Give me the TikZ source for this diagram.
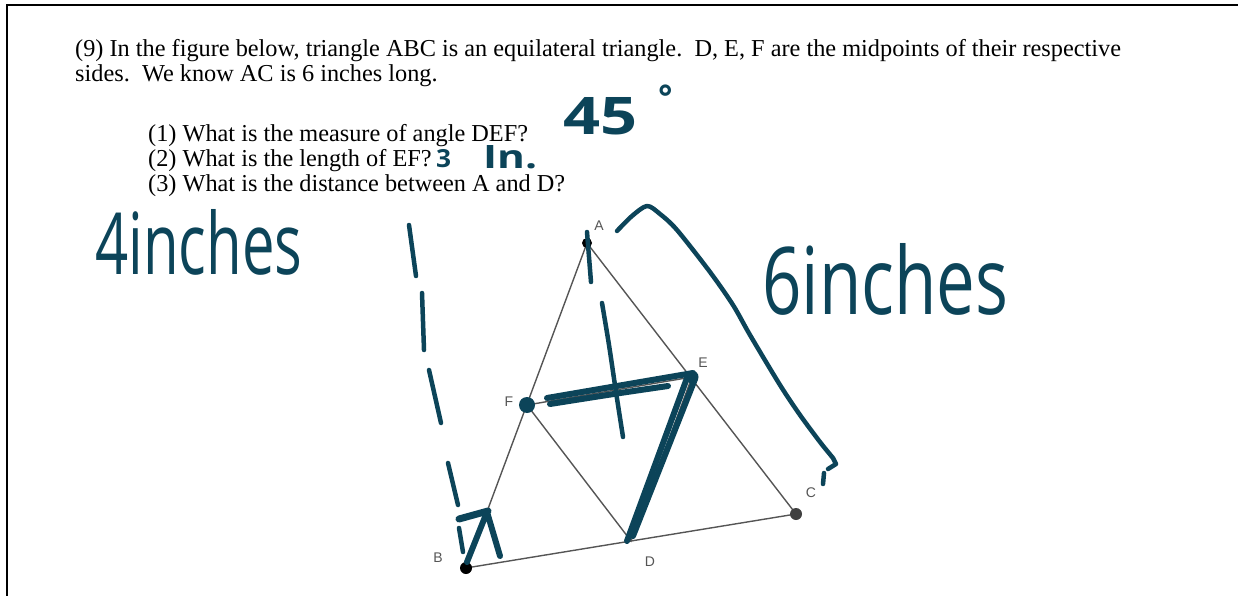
\documentclass[tikz,border=0pt]{standalone}
\usepackage{graphicx}
\usepackage{fontspec}
\setmainfont{Liberation Serif}
\newfontfamily\handfont{Open Sans}
\newfontfamily\labfont{Liberation Sans}
\definecolor{ink}{RGB}{12,68,89}
\definecolor{geo}{RGB}{85,85,85}
\begin{document}
\begin{tikzpicture}[x=1pt,y=-1pt,
  hand/.style={draw=ink, line width=4.5pt, line cap=round, line join=round},
  geoline/.style={draw=geo, line width=1.4pt},
  lab/.style={font=\labfont\fontsize{14}{14}\selectfont, text=geo, inner sep=0pt},
  qtext/.style={font=\fontsize{24.3}{26}\selectfont, inner sep=0pt, anchor=base west},
  htext/.style={text=ink, inner sep=0pt, anchor=south west, font=\handfont},
  dotnode/.style={circle, inner sep=0pt, draw=none}]
\useasboundingbox (0,0) rectangle (1238,596);
% frame
\draw[black, line width=2pt] (1238,5) -- (7,5) -- (7,596);
% text
\node[qtext] (t1) at (75,57) {(9) In the figure below, triangle ABC is an equilateral triangle.\ \ D, E, F are the midpoints of their respective};
\node[qtext] (t2) at (75,82) {sides.\ \ We know AC is 6 inches long.};
\node[qtext] (q1) at (148,142) {(1) What is the measure of angle DEF?};
\node[qtext] (q2) at (148,167) {(2) What is the length of EF?};
\node[qtext] (q3) at (148,191) {(3) What is the distance between A and D?};
% geometry
\coordinate (A) at (587,243);
\coordinate (B) at (466,568);
\coordinate (C) at (796,514);
\coordinate (D) at (631,541);
\coordinate (E) at (692,377);
\coordinate (F) at (527,405);
\draw[geoline] (A) -- (B) -- (C) -- cycle;
\draw[geoline] (D) -- (E) -- (F) -- cycle;
\node[dotnode, fill=black, minimum size=10pt] (Adot) at (A) {};
\node[dotnode, fill=black, minimum size=12pt] (Bdot) at (B) {};
\node[dotnode, fill=black!75, minimum size=12pt] (Cdot) at (C) {};
% labels
\node[lab] (lA) at (599,226) {A};
\node[lab] (lB) at (438,558) {B};
\node[lab] (lC) at (811,493) {C};
\node[lab] (lD) at (650,562) {D};
\node[lab] (lE) at (703,363) {E};
\node[lab] (lF) at (509,402) {F};
% hand strokes: dashed line on the left
\draw[hand] (409,225) -- (416,276);
\draw[hand] (422,293) -- (424,350);
\draw[hand] (429,370) -- (441,423);
\draw[hand] (448,463) -- (458,505);
\draw[hand] (459,528) -- (463,552);
% vertical through A
\draw[hand] (587,232) -- (591,282);
\draw[hand] plot[smooth] coordinates {(602,303) (609,345) (616,392) (623,437)};
% bracket on the right
\draw[hand] plot[smooth, tension=0.5] coordinates {(617,231) (632,216) (647,206) (660,214) (677,230) (710,272) (733,305) (750,335) (780,385) (800,415) (820,442) (833,458)} -- (836,464) -- (828,469);
\draw[hand] (824,473) -- (823,484);
% thick FE
\draw[hand, line width=6pt] plot[smooth] coordinates {(547,398) (617,386) (693,373)};
\draw[hand, line width=6pt] plot[smooth] coordinates {(550,404) (617,393.5) (668,386)};
% thick ED
\draw[hand, line width=6pt] (687,378) -- (627,541);
\draw[hand, line width=6pt] (695,379) -- (633,536);
% mark at B
\draw[hand, line width=7pt] (459,519) -- (488,511);
\draw[hand, line width=6pt] (467,562) -- (487,512) -- (500,556);
% teal dots
\node[dotnode, fill=ink, minimum size=16pt] (Fdot) at (F) {};
\node[dotnode, fill=ink, minimum size=13pt] (Edot) at (E) {};
% handwritten text
\node[htext] (h4) at (95,276) {\resizebox{207pt}{65pt}{4inches}};
\node[htext] (h6) at (762,316) {\resizebox{246pt}{71pt}{6inches}};
\node[htext] (h45) at (563,135) {\resizebox{74pt}{37pt}{\bfseries 45}};
\node[htext, anchor=base west, font=\handfont\bfseries\fontsize{34}{34}\selectfont] (hdeg) at (658,110) {°};
\node[htext] (h3) at (436,168) {\resizebox{15pt}{18pt}{\bfseries 3}};
\node[htext] (hin) at (483,169) {\resizebox{54pt}{23pt}{\bfseries In.}};
\end{tikzpicture}
\end{document}
